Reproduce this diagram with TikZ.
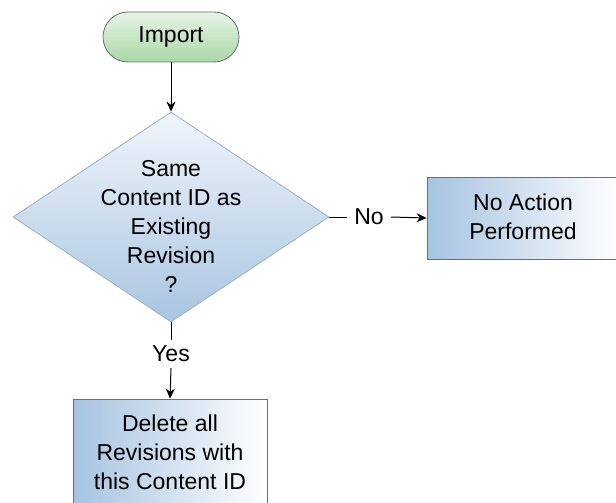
\documentclass[tikz,border=0pt]{standalone}
\usepackage{fontspec}
\setmainfont{Liberation Sans}
\usetikzlibrary{shapes.geometric,arrows.meta}
\definecolor{pillgreen}{HTML}{A9D8A9}
\definecolor{pilltop}{HTML}{E6F4E6}
\definecolor{diabot}{HTML}{A9C5E1}
\definecolor{diatop}{HTML}{F0F5FB}
\definecolor{boxblue}{HTML}{A6C3E1}
\definecolor{edgegray}{HTML}{6E6E6E}
\tikzset{
  txt/.style={font=\fontsize{23}{29}\selectfont, align=center, text=black},
  pill/.style={draw=edgegray, line width=0.8pt, rounded corners=25pt, minimum width=136pt, minimum height=50pt, top color=pilltop, bottom color=pillgreen, inner sep=0pt},
  decision/.style={draw=diabot!70!gray, line width=0.8pt, diamond, minimum width=316pt, minimum height=210pt, inner sep=0pt, top color=diatop, bottom color=diabot},
  procbox/.style={draw=edgegray, line width=0.8pt, left color=boxblue, right color=white, inner sep=0pt},
  arr/.style={line width=1pt, -{Stealth[length=10pt,width=9pt]}},
  ln/.style={line width=1pt},
  lbl/.style={font=\fontsize{23}{29}\selectfont, text=black, inner xsep=7pt, inner ysep=6pt}
}
\begin{document}
\begin{tikzpicture}[x=1pt,y=-1pt]
\useasboundingbox (0,0) rectangle (616,503);
\clip (0,0) rectangle (616,503);
\node[pill, txt] (imp) at (171,37) {Import};
\node[decision] (dec) at (171,217) {};
\node[txt] (dectext) at (171,226) {Same\\Content ID as\\Existing\\Revision\\?};
\node[procbox, minimum width=192pt, minimum height=82pt] (noact) at (523,218) {};
\node[txt] (noacttext) at (523,217) {No Action\\Performed};
\node[procbox, minimum width=194pt, minimum height=106pt] (del) at (170,452) {};
\node[txt] (deltext) at (170,452) {Delete all\\Revisions with\\this Content ID};
\node[lbl] (no) at (369,217) {No};
\node[lbl] (yes) at (171,354) {Yes};
\draw[arr] (imp.south) -- (dec.north);
\draw[ln] (dec.east) -- (no.west);
\draw[arr] (no.east) -- (noact.west);
\draw[ln] (dec.south) -- (yes.north);
\draw[arr] (yes.south) -- (del.north);
\end{tikzpicture}
\end{document}
